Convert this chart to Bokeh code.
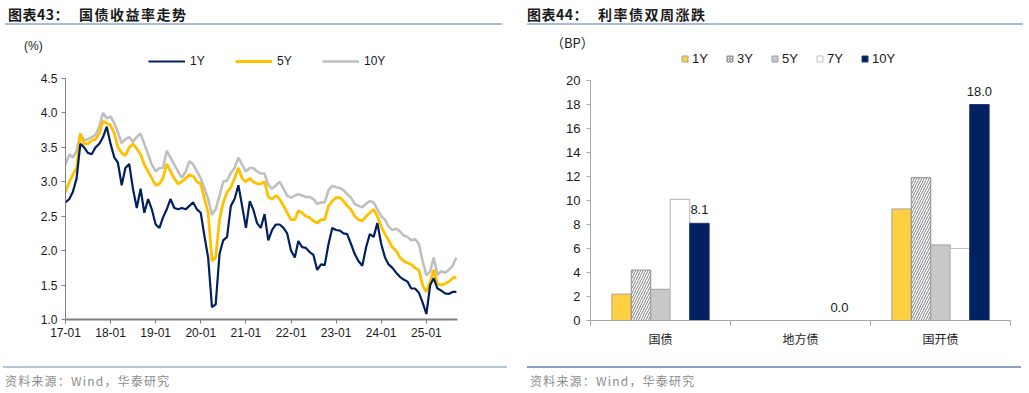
import pandas as pd
from datetime import datetime
from bokeh.plotting import figure
from bokeh.models import (ColumnDataSource, Legend, LegendItem, Div,
                          FixedTicker, DatetimeTickFormatter, Range1d, NumeralTickFormatter)
from bokeh.layouts import row, column
from bokeh.transform import dodge
from bokeh.core.properties import value
from bokeh.embed import file_html
from bokeh.resources import INLINE

# ---------------- data: left chart (monthly, Jan 2017 - Sep 2025) ----------------
dates = pd.date_range("2017-01-01", periods=105, freq="MS")
yield_1y = [
    2.70, 2.75, 2.85, 3.05, 3.55, 3.50, 3.42, 3.40, 3.50, 3.55, 3.65, 3.80,
    3.55, 3.35, 3.28, 2.95, 3.20, 3.26, 2.90, 2.62, 2.90, 2.55, 2.75, 2.60,
    2.38, 2.33, 2.48, 2.60, 2.75, 2.62, 2.60, 2.62, 2.60, 2.65, 2.70, 2.60,
    2.55, 2.20, 1.90, 1.18, 1.22, 1.95, 2.15, 2.20, 2.65, 2.75, 2.95, 2.65,
    2.33, 2.72, 2.60, 2.40, 2.33, 2.53, 2.15, 2.30, 2.38, 2.38, 2.33, 2.25,
    2.00, 1.90, 2.14, 2.05, 2.04, 1.98, 1.94, 1.72, 1.80, 1.79, 2.10, 2.33,
    2.30, 2.29, 2.25, 2.24, 2.10, 1.95, 1.85, 1.78, 2.05, 2.24, 2.20, 2.40,
    2.10, 1.90, 1.80, 1.75, 1.68, 1.62, 1.58, 1.55, 1.45, 1.45, 1.39, 1.25,
    1.08, 1.50, 1.60, 1.45, 1.42, 1.38, 1.37, 1.40, 1.40,
]
yield_5y = [
    2.85, 3.00, 3.10, 3.20, 3.70, 3.55, 3.55, 3.60, 3.62, 3.70, 3.88, 3.85,
    3.82, 3.70, 3.50, 3.42, 3.38, 3.50, 3.55, 3.48, 3.40, 3.25, 3.15, 3.05,
    2.95, 2.97, 3.05, 3.26, 3.15, 3.05, 2.97, 3.00, 3.05, 3.10, 3.08, 3.00,
    2.97, 2.75, 2.55, 1.85, 1.90, 2.45, 2.70, 2.85, 2.92, 3.05, 3.20, 3.05,
    3.00, 3.05, 3.00, 2.97, 2.97, 3.00, 2.78, 2.75, 2.80, 2.75, 2.65, 2.55,
    2.45, 2.45, 2.58, 2.55, 2.50, 2.48, 2.43, 2.40, 2.45, 2.45, 2.65, 2.72,
    2.77, 2.77, 2.72, 2.65, 2.60, 2.50, 2.45, 2.43, 2.50, 2.55, 2.60, 2.50,
    2.35, 2.24, 2.15, 2.05, 2.00, 1.90, 1.85, 1.82, 1.80, 1.75, 1.72, 1.50,
    1.40, 1.55, 1.72, 1.52, 1.50, 1.52, 1.55, 1.60, 1.62,
]
yield_10y = [
    3.25, 3.40, 3.35, 3.45, 3.70, 3.60, 3.62, 3.65, 3.68, 3.80, 4.00, 3.92,
    3.95, 3.85, 3.72, 3.56, 3.62, 3.65, 3.58, 3.65, 3.70, 3.55, 3.40, 3.25,
    3.15, 3.20, 3.20, 3.45, 3.35, 3.25, 3.15, 3.06, 3.15, 3.30, 3.25, 3.15,
    3.05, 2.90, 2.75, 2.52, 2.60, 2.80, 3.00, 3.02, 3.13, 3.20, 3.35, 3.25,
    3.15, 3.20, 3.20, 3.15, 3.12, 3.12, 2.95, 2.90, 2.95, 3.00, 2.90, 2.80,
    2.77, 2.80, 2.82, 2.80, 2.78, 2.78, 2.75, 2.68, 2.70, 2.70, 2.88, 2.94,
    2.92, 2.91, 2.88, 2.82, 2.77, 2.68, 2.65, 2.63, 2.68, 2.72, 2.70, 2.60,
    2.50, 2.45, 2.35, 2.30, 2.32, 2.28, 2.22, 2.20, 2.15, 2.17, 2.10, 1.85,
    1.64, 1.70, 1.90, 1.65, 1.70, 1.68, 1.72, 1.78, 1.90,
]
year_ticks = [datetime(y, 1, 1) for y in range(2017, 2026)]
y_ticks_left = [1.0, 1.5, 2.0, 2.5, 3.0, 3.5, 4.0, 4.5]

# ---------------- data: right chart ----------------
bond_types = ["国债", "地方债", "国开债"]
tenors = ["1Y", "3Y", "5Y", "7Y", "10Y"]
chg_1y = [2.2, 0.0, 9.3]
chg_3y = [4.2, 0.0, 11.9]
chg_5y = [2.6, 0.0, 6.3]
chg_7y = [10.1, 0.0, 6.0]
chg_10y = [8.1, 0.0, 18.0]
y_ticks_right = list(range(0, 21, 2))

NUM_FONT = "Liberation Sans"
CJK_FONT = "Noto Sans CJK SC"
NAVY = "#002060"
GOLD = "#FFC000"
GREY = "#BFBFBF"
TXT = "#1a1a1a"


def span(x, top, text, size, color, font, bold=False, lh=16, ls=0):
    weight = "bold" if bold else "normal"
    return (f'<div style="position:absolute;left:{x}px;top:{top}px;white-space:nowrap;'
            f"font-family:'{font}';font-size:{size}px;font-weight:{weight};color:{color};"
            f'line-height:{lh}px;letter-spacing:{ls}px;">{text}</div>')


def rule(x0, x1, top, thick, color):
    return (f'<div style="position:absolute;left:{x0}px;top:{top}px;width:{x1 - x0}px;'
            f'height:{thick}px;background:{color};"></div>')


def box(width, height, parts):
    inner = "".join(parts)
    html = f'<div style="position:relative;width:{width}px;height:{height}px;">{inner}</div>'
    return Div(text=html, width=width, height=height, margin=0)


# ======================= LEFT PANEL =======================
COL1_W = 516
HEAD1_H = 53
FIG1_H = 309
FOOT_H = 30
L_BL, L_BB = 65, 43
L_FR = 457                      # frame right (page x)
L_BR = COL1_W - L_FR
frame1_h = FIG1_H - L_BB
px_per_unit1 = (319 - 78) / 3.5
y_top1 = 1.0 + frame1_h / px_per_unit1

head1 = box(COL1_W, HEAD1_H, [
    span(8, 6, "图表43：", 14, TXT, CJK_FONT, bold=True, ls=0.5),
    span(79, 6, "国债收益率走势", 14, TXT, CJK_FONT, bold=True, ls=1.5),
    rule(5, 502, 23, 2, "#A9BDD6"),
    span(24, 40, "(%)", 12, TXT, NUM_FONT, lh=13),
])

p1 = figure(width=COL1_W, height=FIG1_H, x_axis_type="datetime", output_backend="svg",
            toolbar_location=None,
            x_range=Range1d(datetime(2017, 1, 1), datetime(2025, 9, 10)),
            y_range=Range1d(1.0, y_top1),
            min_border_left=L_BL, min_border_right=L_BR, min_border_top=0, min_border_bottom=L_BB,
            margin=0)
p1.outline_line_color = None
p1.xgrid.visible = False
p1.ygrid.visible = False

src1 = ColumnDataSource(dict(date=dates, y1=yield_1y, y5=yield_5y, y10=yield_10y))
r10 = p1.line("date", "y10", source=src1, color=GREY, line_width=2.6)
r5 = p1.line("date", "y5", source=src1, color=GOLD, line_width=2.8)
r1 = p1.line("date", "y1", source=src1, color=NAVY, line_width=2.2)

p1.yaxis.ticker = FixedTicker(ticks=y_ticks_left)
p1.yaxis.formatter = NumeralTickFormatter(format="0.0")
p1.yaxis.bounds = (y_ticks_left[0], y_ticks_left[-1])
p1.xaxis.ticker = FixedTicker(ticks=[pd.Timestamp(d).value / 1e6 for d in year_ticks])
fmt = "%y-%m"
p1.xaxis.formatter = DatetimeTickFormatter(years=fmt, months=fmt, days=fmt, hours=fmt,
                                           hourmin=fmt, minutes=fmt, minsec=fmt, seconds=fmt,
                                           milliseconds=fmt, microseconds=fmt)
for ax in (p1.xaxis, p1.yaxis):
    ax.axis_line_color = "#808080"
    ax.major_tick_line_color = "#808080"
    ax.minor_tick_line_color = None
    ax.major_tick_out = 4
    ax.major_tick_in = 0
    ax.major_label_text_font = NUM_FONT
    ax.major_label_text_font_size = "12px"
    ax.major_label_text_color = TXT
p1.xaxis.axis_line_width = 2
p1.yaxis.major_label_standoff = 4
p1.xaxis.major_label_standoff = 4

LEG1_H = 14
leg1 = Legend(items=[LegendItem(label="1Y", renderers=[r1]),
                     LegendItem(label="5Y", renderers=[r5]),
                     LegendItem(label="10Y", renderers=[r10])],
              orientation="horizontal", location=(148 - L_BL, frame1_h - LEG1_H - 1),
              glyph_width=37, glyph_height=LEG1_H, label_height=LEG1_H, label_standoff=5,
              spacing=25, padding=0, margin=0, border_line_color=None, background_fill_alpha=0,
              label_text_font=NUM_FONT, label_text_font_size="12px", label_text_color=TXT)
p1.add_layout(leg1)

foot1 = box(COL1_W, FOOT_H, [
    rule(3, 507, 4, 2, "#B4C5DA"),
    span(5, 12, "资料来源：Wind，华泰研究", 12, "#8c8c8c", CJK_FONT, lh=14, ls=1.2),
])

# ======================= RIGHT PANEL =======================
COL2_W = 511
X0 = COL1_W
HEAD2_H = 50
FIG2_H = 312
R_BL, R_BB = 590 - X0, 42
R_BR = 17
frame2_h = FIG2_H - R_BB
y_top2 = frame2_h / 12.0       # 12 px per BP

head2 = box(COL2_W, HEAD2_H, [
    span(527 - X0, 6, "图表44：", 14, TXT, CJK_FONT, bold=True, ls=0.5),
    span(598 - X0, 6, "利率债双周涨跌", 14, TXT, CJK_FONT, bold=True, ls=1.5),
    rule(527 - X0, 1023 - X0, 23, 2, "#A9BDD6"),
    span(551 - X0, 36, "（BP）", 13, TXT, CJK_FONT, lh=14),
])

p2 = figure(width=COL2_W, height=FIG2_H, output_backend="svg", toolbar_location=None,
            x_range=Range1d(0, 3), y_range=Range1d(0, y_top2),
            min_border_left=R_BL, min_border_right=R_BR, min_border_top=0, min_border_bottom=R_BB,
            margin=0)
p2.outline_line_color = None
p2.xgrid.visible = False
p2.ygrid.visible = False

src2 = ColumnDataSource(dict(
    x=[i + 0.5 for i in range(len(bond_types))], cat=bond_types,
    c1=chg_1y, c3=chg_3y, c5=chg_5y, c7=chg_7y, c10=chg_10y,
    lab10=[f"{v:.1f}" for v in chg_10y]))

STEP = 0.139
BW = 0.139
styles = [
    dict(fill_color="#FFD042", line_color="#A6A6A6"),
    dict(fill_color="white", line_color="#8C8C8C", hatch_pattern="right_diagonal_line",
         hatch_color="#7F7F7F", hatch_scale=5, hatch_weight=1),
    dict(fill_color="#C8C8C8", line_color="#A0A0A0"),
    dict(fill_color="white", line_color="#BFBFBF"),
    dict(fill_color=NAVY, line_color="#1F3A72"),
]
cols = ["c1", "c3", "c5", "c7", "c10"]
proxies = []
for i, (c, st) in enumerate(zip(cols, styles)):
    xpos = dodge("x", (i - 2) * STEP, range=p2.x_range)
    p2.vbar(x=xpos, top=c, width=BW, source=src2,
            line_width=1.2 if c == "c7" else 1, **st)
    mk = {k: v for k, v in st.items() if k != "hatch_scale"}
    if "hatch_pattern" in mk:
        mk["hatch_scale"] = 3
    # zero-size markers on the bar tops: used only as square legend swatches
    proxies.append(p2.scatter(x=xpos, y=c, source=src2, marker="square", size=0,
                              line_width=1, **mk))

p2.text(x=dodge("x", 2 * STEP, range=p2.x_range), y="c10", text="lab10", source=src2,
        text_align="center", text_baseline="bottom", y_offset=-9,
        text_font=value(NUM_FONT), text_font_size="13px", text_color=TXT)

p2.yaxis.ticker = FixedTicker(ticks=y_ticks_right)
p2.yaxis.formatter = NumeralTickFormatter(format="0")
p2.yaxis.bounds = (y_ticks_right[0], y_ticks_right[-1])
p2.xaxis.ticker = FixedTicker(ticks=[i + 0.5 for i in range(len(bond_types))],
                              minor_ticks=list(range(len(bond_types) + 1)))
p2.xaxis.major_label_overrides = {i + 0.5: n for i, n in enumerate(bond_types)}
for ax in (p2.xaxis, p2.yaxis):
    ax.axis_line_color = "#A6A6A6"
    ax.major_tick_line_color = "#A6A6A6"
    ax.major_tick_in = 0
    ax.major_tick_out = 4
p2.yaxis.minor_tick_line_color = None
p2.yaxis.major_label_text_font = NUM_FONT
p2.yaxis.major_label_text_font_size = "13px"
p2.yaxis.major_label_text_color = TXT
p2.yaxis.major_label_standoff = 6
p2.xaxis.major_tick_line_color = None
p2.xaxis.major_tick_out = 0
p2.xaxis.minor_tick_line_color = "#A6A6A6"
p2.xaxis.minor_tick_out = 5
p2.xaxis.minor_tick_in = 0
p2.xaxis.major_label_standoff = 4
p2.xaxis.major_label_text_font = CJK_FONT
p2.xaxis.major_label_text_font_size = "12px"
p2.xaxis.major_label_text_color = TXT

LEG2_H = 15
leg2 = Legend(items=[LegendItem(label=t, renderers=[r], index=0) for t, r in zip(tenors, proxies)],
              orientation="horizontal", location=(677 - 590, frame2_h - LEG2_H - 1),
              glyph_width=15, glyph_height=LEG2_H, label_height=LEG2_H, label_standoff=0,
              spacing=10, padding=0, margin=0, border_line_color=None, background_fill_alpha=0,
              label_text_font=NUM_FONT, label_text_font_size="13px", label_text_color=TXT)
p2.add_layout(leg2)

foot2 = box(COL2_W, FOOT_H, [
    rule(527 - X0, 1021 - X0, 4, 2, "#86A2C4"),
    span(530 - X0, 12, "资料来源：Wind，华泰研究", 12, "#8c8c8c", CJK_FONT, lh=14, ls=1.2),
])

layout = row(column(head1, p1, foot1, spacing=0), column(head2, p2, foot2, spacing=0), spacing=0)
open("out.html", "w").write(file_html(layout, INLINE))
